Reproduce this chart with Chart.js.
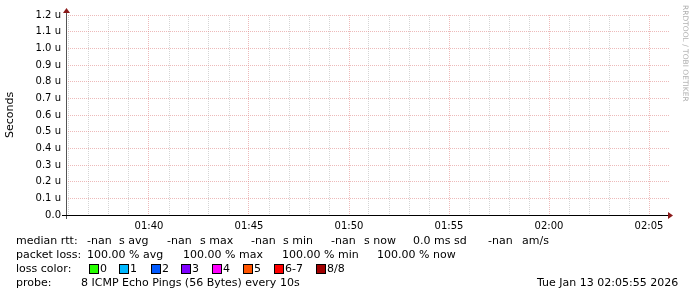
<!DOCTYPE html>
<html>
<head>
<meta charset="utf-8">
<script src="https://cdn.jsdelivr.net/npm/chart.js@4"></script>
<style>
  body { margin: 0; background: #fff; }
  #wrap { position: relative; width: 697px; height: 297px; font-family: "DejaVu Sans", sans-serif; }
  #wrap canvas { position: absolute; left: 0; top: 0; }
  .t { position: absolute; font-size: 11px; line-height: 14px; white-space: pre; color: #000; }
  .box { position: absolute; width: 8px; height: 8px; border: 1px solid #000; }
  #ylab { position: absolute; left: 3px; top: 138px; font-size: 11px; transform: rotate(-90deg); transform-origin: left top; }
  #credit { position: absolute; left: 690px; top: 5px; font-size: 7.5px; color: #b0b0b0; transform: rotate(90deg); transform-origin: left top; white-space: nowrap; }
</style>
</head>
<body>
<div id="wrap">
  <canvas id="chart" width="697" height="297"></canvas>
  <div id="ylab">Seconds</div>
  <div id="credit">RRDTOOL / TOBI OETIKER</div>
</div>
<script>
// time axis in minutes after 01:00, values in microseconds
const minutes = [36, 37, 38, 39, 40, 41, 42, 43, 44, 45, 46, 47, 48, 49, 50,
                 51, 52, 53, 54, 55, 56, 57, 58, 59, 60, 61, 62, 63, 64, 65];
const medianRtt = minutes.map(() => null);   // all -nan
const yTicks = [0, 0.1, 0.2, 0.3, 0.4, 0.5, 0.6, 0.7, 0.8, 0.9, 1.0, 1.1, 1.2];
const timeStart = 35.85;  // 01:35:51
const timeEnd = 66;       // 02:06

const lossNames = ['0', '1', '2', '3', '4', '5', '6-7', '8/8'];
const lossColors = ['#26ff00', '#00b8ff', '#0059ff', '#7e00ff', '#ff00fe', '#ff5500', '#ff0000', '#a10000'];

const legendLines = [
  [[16, 'median rtt:'], [87, '-nan'], [119, 's avg'], [167, '-nan'], [200, 's max'],
   [251, '-nan'], [283, 's min'], [331, '-nan'], [364, 's now'], [413, '0.0 ms sd'],
   [488, '-nan'], [522, 'am/s']],
  [[16, 'packet loss:'], [87, '100.00 % avg'], [183, '100.00 % max'], [282, '100.00 % min'], [377, '100.00 % now']],
  [[16, 'loss color:']],
  [[16, 'probe:'], [81, '8 ICMP Echo Pings (56 Bytes) every 10s'], [537, 'Tue Jan 13 02:05:55 2026']]
];
const boxX = [89, 119, 151, 181, 212, 243, 274, 316];

const wrap = document.getElementById('wrap');
legendLines.forEach((line, i) => {
  line.forEach(([x, txt]) => {
    const d = document.createElement('div');
    d.className = 't';
    d.style.left = x + 'px';
    d.style.top = (234 + i * 14) + 'px';
    d.textContent = txt;
    wrap.appendChild(d);
  });
});
lossNames.forEach((name, i) => {
  const b = document.createElement('div');
  b.className = 'box';
  b.style.left = boxX[i] + 'px';
  b.style.top = '264px';
  b.style.background = lossColors[i];
  wrap.appendChild(b);
  const d = document.createElement('div');
  d.className = 't';
  d.style.left = (boxX[i] + 11) + 'px';
  d.style.top = '262px';
  d.textContent = name;
  wrap.appendChild(d);
});

const axesPlugin = {
  id: 'rrdAxes',
  afterDraw(chart) {
    const { ctx, chartArea: a } = chart;
    ctx.save();
    ctx.lineWidth = 1;
    // y axis
    ctx.strokeStyle = '#555';
    ctx.beginPath();
    ctx.moveTo(a.left + 0.5, a.bottom + 4);
    ctx.lineTo(a.left + 0.5, a.top - 3);
    ctx.stroke();
    // x axis
    ctx.strokeStyle = '#000';
    ctx.beginPath();
    ctx.moveTo(a.left - 4, a.bottom + 0.5);
    ctx.lineTo(a.right - 1, a.bottom + 0.5);
    ctx.stroke();
    // arrows
    ctx.fillStyle = '#8b1a1a';
    ctx.beginPath();
    ctx.moveTo(a.right - 1, a.bottom - 3);
    ctx.lineTo(a.right + 4, a.bottom + 0.5);
    ctx.lineTo(a.right - 1, a.bottom + 4);
    ctx.fill();
    ctx.beginPath();
    ctx.moveTo(a.left - 3, a.top - 2);
    ctx.lineTo(a.left + 0.5, a.top - 7);
    ctx.lineTo(a.left + 4, a.top - 2);
    ctx.fill();
    ctx.restore();
  }
};

new Chart(document.getElementById('chart'), {
  type: 'line',
  data: {
    datasets: [{
      label: 'median rtt',
      data: minutes.map((m, i) => ({ x: m, y: medianRtt[i] })),
      borderColor: '#26ff00',
      pointRadius: 0
    }]
  },
  options: {
    responsive: false,
    animation: false,
    layout: { padding: { left: 0, right: 28, top: 15, bottom: 62 } },
    plugins: { legend: { display: false }, tooltip: { enabled: false } },
    scales: {
      x: {
        type: 'linear',
        min: timeStart,
        max: timeEnd,
        afterBuildTicks: scale => { scale.ticks = minutes.map(v => ({ value: v })); },
        afterFit: scale => { scale.height = 20; },
        border: { display: false, dash: [1, 1] },
        grid: {
          drawTicks: false,
          color: c => (c.tick && c.tick.value % 5 === 0) ? 'rgba(225,140,140,0.6)' : 'rgba(185,185,185,0.6)'
        },
        ticks: {
          autoSkip: false,
          maxRotation: 0,
          padding: 5,
          color: '#000',
          font: { family: 'DejaVu Sans', size: 10 },
          callback: v => v % 5 === 0 ? '0' + Math.floor(v / 60 + 1) + ':' + String(v % 60).padStart(2, '0') : ''
        }
      },
      y: {
        min: 0,
        max: 1.2,
        afterBuildTicks: scale => { scale.ticks = yTicks.map(v => ({ value: v })); },
        afterFit: scale => { scale.width = 66; },
        border: { display: false, dash: [1, 1] },
        grid: {
          drawTicks: false,
          color: 'rgba(225,140,140,0.6)'
        },
        ticks: {
          padding: 5,
          color: '#000',
          font: { family: 'DejaVu Sans', size: 10 },
          callback: v => v === 0 ? '0.0' : v.toFixed(1) + ' u'
        }
      }
    }
  },
  plugins: [axesPlugin]
});
</script>
</body>
</html>
